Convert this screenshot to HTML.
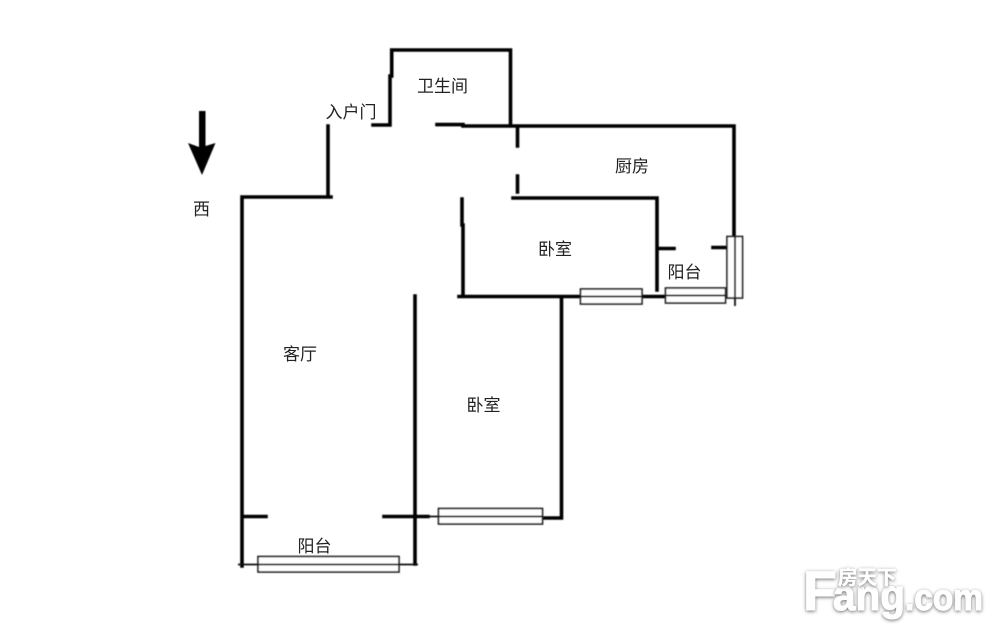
<!DOCTYPE html>
<html><head><meta charset="utf-8">
<style>
html,body{margin:0;padding:0;background:#fff}
body{width:1000px;height:637px;overflow:hidden;position:relative}
svg{position:absolute;left:0;top:0}
.t{font-family:"Liberation Sans","Noto Sans CJK SC",sans-serif;font-size:17px;fill:#222;text-anchor:middle}
.w{stroke:#000;stroke-width:3.6;fill:none;stroke-linecap:square}
.n{stroke:#111;stroke-width:1.8;fill:none}
.win{fill:#fff;stroke:#222;stroke-width:1.7}
.wm{font-family:"Liberation Sans",sans-serif;font-weight:700;fill:#fff;stroke:#fff;stroke-width:1;filter:url(#sh)}
</style></head><body>
<svg width="1000" height="637" viewBox="0 0 1000 637" xmlns="http://www.w3.org/2000/svg">
<defs>
<filter id="sh" x="-20%" y="-20%" width="140%" height="140%"><feDropShadow dx="0" dy="1" stdDeviation="1.8" flood-color="#666" flood-opacity="0.95"/></filter>
<filter id="soft"><feGaussianBlur stdDeviation="0.4"/></filter>
</defs>
<g filter="url(#soft)">
<path class="w" d="M373 125H390V76M391.700 76V50H510.500V125"/>
<path class="w" d="M437 124.600H463M463 126H734V236"/>
<path class="w" d="M517.500 127V146M517.500 176V192"/>
<path class="w" d="M328 126V197M331 197H242V566"/>
<path class="w" d="M513 198H657V290"/>
<path class="w" d="M658 248.500H674M713 247.500H725"/>
<path class="w" d="M462 199V225M463 225V296M459 296.500H580M642 296.500H665"/>
<path class="w" d="M415 296V564"/>
<path class="w" d="M561.500 297V518H543"/>
<path class="w" d="M244 516.500H266M384 516.500H428"/>
<path class="n" d="M428 516.500H438M238 564.500H258M399 564.500H418M725 297H736M735 236V306"/>
<rect class="win" x="258" y="556.500" width="141" height="15.500"/><path class="n" d="M258 564.500H399"/>
<rect class="win" x="438.500" y="508.500" width="104" height="15.500"/><path class="n" d="M438.500 516.500H542.500"/>
<rect class="win" x="580.500" y="289" width="61.500" height="15"/><path class="n" d="M580.500 296.500H642"/>
<rect class="win" x="665.500" y="288" width="60" height="15"/><path class="n" d="M665.500 295.500H725.500"/>
<rect class="win" x="727" y="236.500" width="15.500" height="61.500"/><path class="n" d="M735 236.500V298"/>
<path d="M199 111H205.500V146L215.500 143L202 175L188 143L199 147Z" fill="#000"/>
</g>
<g class="t">
<text class="t" x="442.500" y="92">卫生间</text>
<text class="t" x="351" y="118">入户门</text>
<text class="t" x="632" y="172">厨房</text>
<text class="t" x="555" y="255">卧室</text>
<text class="t" x="684.500" y="278">阳台</text>
<text class="t" x="300" y="360">客厅</text>
<text class="t" x="483.500" y="411">卧室</text>
<text class="t" x="314.500" y="552">阳台</text>
<text class="t" x="201.500" y="215">西</text>
</g>
<text class="wm" x="803" y="610" font-size="56" textLength="34" lengthAdjust="spacingAndGlyphs">F</text>
<text class="wm" x="833" y="610" font-size="44" textLength="72" lengthAdjust="spacingAndGlyphs">ang</text>
<text class="wm" x="905" y="610" font-size="37" textLength="78" lengthAdjust="spacingAndGlyphs">.com</text>
<text class="wm" x="838" y="584" font-size="19.500" style="font-family:'Liberation Sans','Noto Sans CJK SC',sans-serif;stroke-width:0.3">房天下</text>
</svg>
</body></html>
